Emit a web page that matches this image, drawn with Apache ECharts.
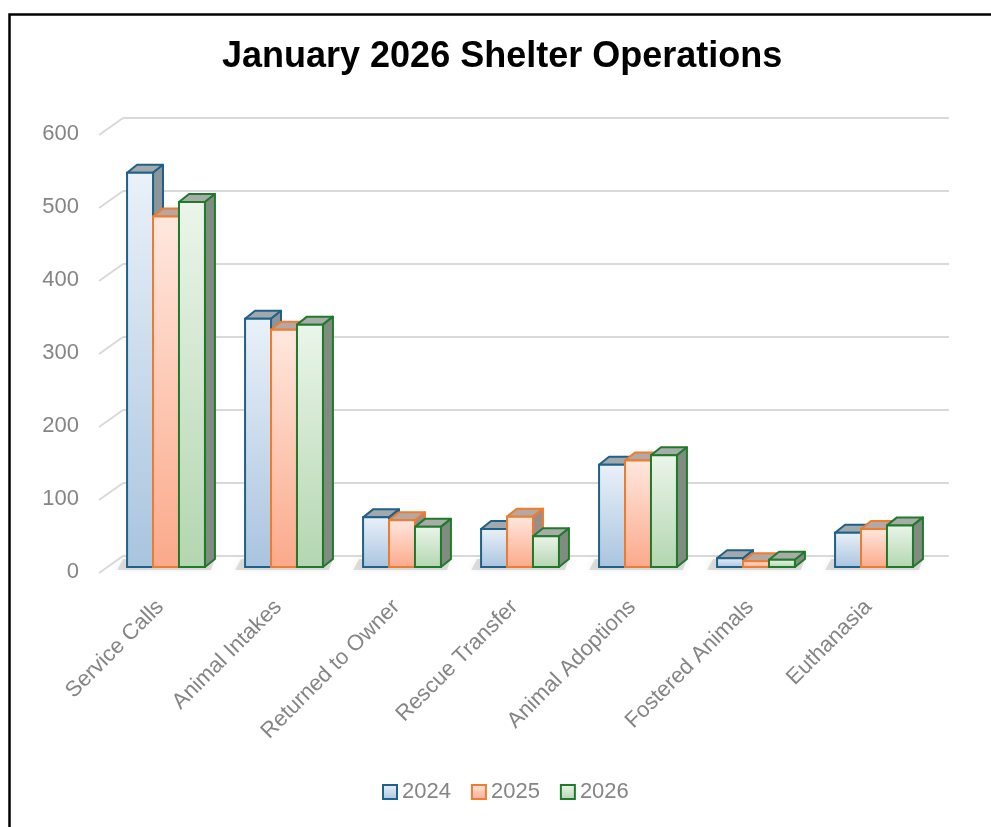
<!DOCTYPE html>
<html>
<head>
<meta charset="utf-8">
<title>January 2026 Shelter Operations</title>
<script src="https://cdn.jsdelivr.net/npm/echarts@6/dist/echarts.min.js"></script>
<style>
  html, body { margin: 0; padding: 0; background: #fff; }
  #chart { width: 991px; height: 827px; }
</style>
</head>
<body>
<div id="chart"></div>
<script>
// chart data
const categories = [
  "Service Calls",
  "Animal Intakes",
  "Returned to Owner",
  "Rescue Transfer",
  "Animal Adoptions",
  "Fostered Animals",
  "Euthanasia",
];
const years = ["2024", "2025", "2026"];
const values2024 = [540, 340, 68, 52, 140, 12, 47];
const values2025 = [480, 325, 64, 69, 146, 8, 52];
const values2026 = [500, 332, 55, 42, 153, 10, 57];
const yTicks = [0, 100, 200, 300, 400, 500, 600];

// look of each year (border, gradient, top + side faces)
const looks = [
  { line: "#1f6189", light: "#eaf1f9", dark: "#a9c4df", top: "#a2a9ad", side: "#8b959b" },
  { line: "#ed7d31", light: "#ffe8df", dark: "#fba98a", top: "#b5a7a1", side: "#9b8e89" },
  { line: "#217a2c", light: "#ebf5ea", dark: "#b3d6b0", top: "#a6ada6", side: "#7f8c7f" },
];

const DX = 10, DY = -8; // bar depth in pixels

function gradient(look) {
  return new echarts.graphic.LinearGradient(0, 0, 0, 1, [
    { offset: 0, color: look.light },
    { offset: 1, color: look.dark },
  ]);
}

// draws one 3d looking bar: top face, side face, front face
function barRender(k) {
  const look = looks[k];
  return function (params, api) {
    const idx = api.value(0);
    const v = api.value(1);
    const base = api.coord([idx, 0]);
    const top = api.coord([idx, v]);
    const band = api.size([1, 0])[0];
    const w = band * 0.22;
    const x0 = base[0] - 1.5 * w + k * w;
    const y0 = base[1];
    const y1 = top[1];
    return {
      type: "group",
      children: [
        {
          type: "polygon",
          shape: { points: [[x0, y1], [x0 + DX, y1 + DY], [x0 + w + DX, y1 + DY], [x0 + w, y1]] },
          style: { fill: look.top, stroke: look.line, lineWidth: 2, lineJoin: "round" },
        },
        {
          type: "polygon",
          shape: { points: [[x0 + w, y1], [x0 + w + DX, y1 + DY], [x0 + w + DX, y0 + DY], [x0 + w, y0]] },
          style: { fill: look.side, stroke: look.line, lineWidth: 2, lineJoin: "round" },
        },
        {
          type: "rect",
          shape: { x: x0, y: y1, width: w, height: y0 - y1 },
          style: { fill: gradient(look), stroke: look.line, lineWidth: 2 },
        },
      ],
    };
  };
}

// soft shadow on the floor under each group
function shadowRender(params, api) {
  const base = api.coord([api.value(0), 0]);
  const band = api.size([1, 0])[0];
  const w = band * 0.22;
  const x0 = base[0] - 1.5 * w;
  const x1 = base[0] + 1.5 * w;
  const y0 = base[1];
  return {
    type: "polygon",
    shape: { points: [[x0 - 10, y0 + 3], [x1 + DX - 4, y0 + 3], [x1 + DX, y0 + DY], [x0 - 4, y0 + DY]] },
    style: { fill: "rgba(120,120,120,0.22)", shadowBlur: 8, shadowColor: "rgba(0,0,0,0.3)" },
  };
}

// diagonal lines of the left wall
function wallRender(params, api) {
  const p = api.coord([0, api.value(1)]);
  return {
    type: "line",
    shape: { x1: p[0], y1: p[1], x2: p[0] - 24, y2: p[1] + 17 },
    style: { stroke: "#d9d9d9", lineWidth: 2 },
  };
}

const chart = echarts.init(document.getElementById("chart"));
const grey = "#858585";

const option = {
  animation: false,
  backgroundColor: "#fff",
  title: {
    text: "January 2026 Shelter Operations",
    left: 217,
    top: 34,
    textStyle: { fontFamily: "Liberation Sans", fontWeight: "bold", fontSize: 36, color: "#000" },
  },
  legend: {
    bottom: 19,
    left: 377,
    itemWidth: 14,
    itemHeight: 14,
    itemGap: 20,
    icon: "rect",
    textStyle: { color: grey, fontSize: 22, fontFamily: "Liberation Sans" },
    data: years.map((y, k) => ({
      name: y,
      itemStyle: { color: gradient(looks[k]), borderColor: looks[k].line, borderWidth: 2 },
    })),
  },
  graphic: [
    {
      type: "rect",
      left: 7,
      top: 12,
      shape: { width: 1010, height: 900 },
      style: { fill: "none", stroke: "#000", lineWidth: 2.5 },
      z: 100,
    },
  ],
  grid: [
    { left: 107, right: 58, top: 129, bottom: 260 },
    { left: 123, right: 42, top: 118, bottom: 271 },
  ],
  xAxis: [
    {
      type: "category",
      gridIndex: 0,
      data: categories,
      axisLine: { show: false },
      axisTick: { show: false },
      axisLabel: {
        rotate: 45,
        margin: 31,
        interval: 0,
        formatter: "{a|{value}}",
        rich: { a: { color: grey, fontSize: 22, fontFamily: "Liberation Sans", padding: [0, 8, 0, 0] } },
      },
    },
    { type: "value", gridIndex: 1, min: 0, max: 1, show: false },
  ],
  yAxis: [
    {
      type: "value",
      gridIndex: 0,
      min: 0,
      max: 600,
      interval: 100,
      splitLine: { show: false },
      axisLine: { show: false },
      axisTick: { show: false },
      axisLabel: {
        margin: 28,
        formatter: "{a|{value}}",
        rich: { a: { color: grey, fontSize: 22, fontFamily: "Liberation Sans", padding: [10, 0, 0, 0] } },
      },
    },
    {
      type: "value",
      gridIndex: 1,
      min: 0,
      max: 600,
      interval: 100,
      axisLine: { show: false },
      axisTick: { show: false },
      axisLabel: { show: false },
      splitLine: { lineStyle: { color: "#d9d9d9", width: 2 } },
    },
  ],
  series: [
    {
      type: "custom",
      name: "wall",
      xAxisIndex: 1,
      yAxisIndex: 1,
      renderItem: wallRender,
      data: yTicks.map((v) => [0, v]),
      silent: true,
      z: 1,
    },
    {
      type: "custom",
      name: "shadow",
      renderItem: shadowRender,
      data: categories.map((c, i) => [i, 0]),
      silent: true,
      clip: false,
      z: 2,
    },
  ].concat(
    [values2024, values2025, values2026].map((vals, k) => ({
      type: "custom",
      name: years[k],
      renderItem: barRender(k),
      data: vals.map((v, i) => [i, v]),
      encode: { x: 0, y: 1 },
      clip: false,
      z: 3,
      itemStyle: { color: looks[k].dark, borderColor: looks[k].line },
    }))
  ),
};

chart.setOption(option);
</script>
</body>
</html>
